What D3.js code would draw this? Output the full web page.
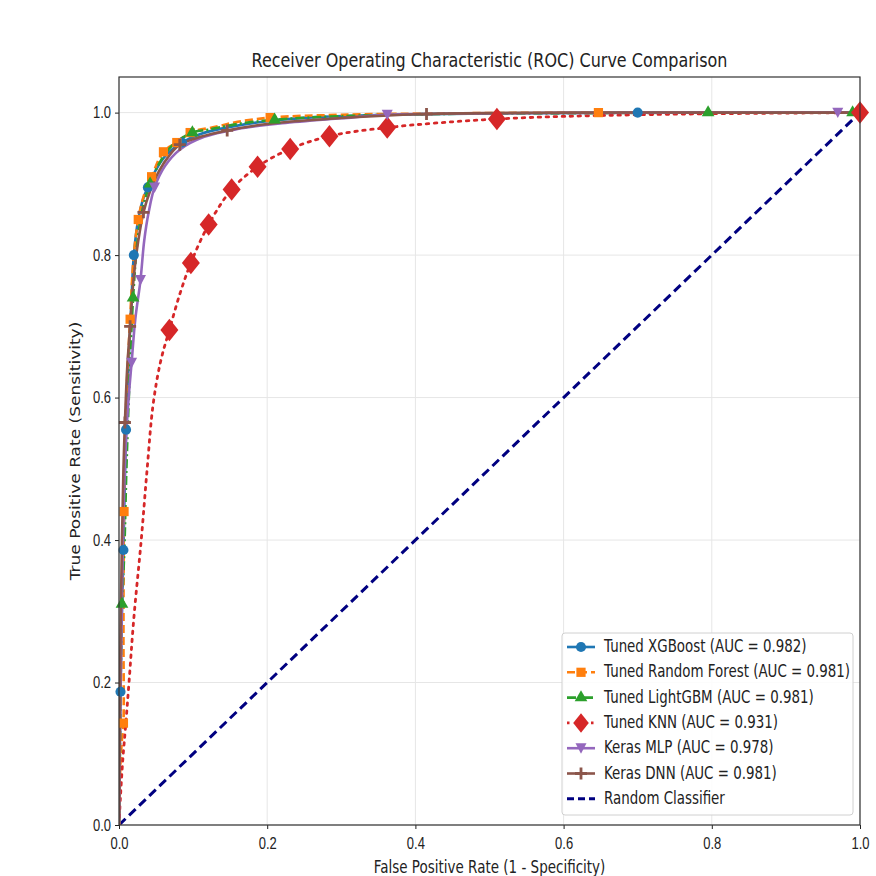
<!DOCTYPE html>
<html>
<head>
<meta charset="utf-8" />
<title>ROC Curve Comparison</title>
<script src="https://d3js.org/d3.v7.min.js"></script>
<style>
  body { margin: 0; background: #fff; font-family: "DejaVu Sans", sans-serif; }
  svg { display: block; }
  .tick text { font-size: 13px; fill: #222; }
  .tick line { stroke: #222; }
  .grid line { stroke: #e6e6e6; stroke-width: 1; }
</style>
</head>
<body>
<svg width="876" height="876"></svg>
<script>
// ---- data ----
const modelNames = ["Tuned XGBoost", "Tuned Random Forest", "Tuned LightGBM", "Tuned KNN", "Keras MLP", "Keras DNN"];
const aucValues = [0.982, 0.981, 0.981, 0.931, 0.978, 0.981];

const xgbFpr = [0, 0.001, 0.002, 0.004, 0.006, 0.0095, 0.013, 0.017, 0.02, 0.026, 0.033, 0.039, 0.05, 0.065, 0.085, 0.11, 0.15, 0.2, 0.27, 0.36, 0.5, 0.7, 1.0];
const xgbTpr = [0, 0.1, 0.187, 0.3, 0.386, 0.555, 0.65, 0.74, 0.8, 0.85, 0.88, 0.895, 0.92, 0.942, 0.958, 0.97, 0.98, 0.988, 0.994, 0.997, 0.999, 1.0, 1.0];
const xgbMarks = [2, 4, 5, 8, 11, 14, 21];

const rfFpr = [0, 0.002, 0.004, 0.006, 0.006, 0.0062, 0.0068, 0.01, 0.015, 0.02, 0.026, 0.034, 0.044, 0.06, 0.078, 0.096, 0.13, 0.16, 0.204, 0.3, 0.45, 0.647, 0.85, 1.0];
const rfTpr = [0, 0.087, 0.12, 0.143, 0.26, 0.35, 0.44, 0.6, 0.71, 0.8, 0.85, 0.885, 0.91, 0.945, 0.958, 0.972, 0.98, 0.987, 0.993, 0.997, 0.999, 1.0, 1.0, 1.0];
const rfMarks = [3, 6, 8, 10, 12, 13, 14, 15, 18, 21, 23];

const lgbFpr = [0, 0.001, 0.002, 0.003, 0.004, 0.007, 0.01, 0.014, 0.019, 0.025, 0.032, 0.042, 0.055, 0.07, 0.099, 0.12, 0.16, 0.21, 0.3, 0.42, 0.6, 0.795, 0.99, 1.0];
const lgbTpr = [0, 0.08, 0.18, 0.26, 0.31, 0.38, 0.5, 0.62, 0.74, 0.82, 0.865, 0.9, 0.93, 0.952, 0.972, 0.976, 0.984, 0.99, 0.995, 0.998, 0.999, 1.0, 1.0, 1.0];
const lgbMarks = [4, 8, 11, 14, 17, 21, 22];

const knnFpr = [0, 0.002, 0.005, 0.009, 0.0135, 0.02, 0.03, 0.038, 0.046, 0.056, 0.068, 0.082, 0.097, 0.121, 0.152, 0.187, 0.231, 0.284, 0.362, 0.51, 0.7, 1.0];
const knnTpr = [0, 0.04, 0.09, 0.14, 0.2, 0.29, 0.4, 0.5, 0.59, 0.65, 0.695, 0.745, 0.789, 0.843, 0.892, 0.924, 0.949, 0.967, 0.979, 0.991, 0.997, 1.0];
const knnMarks = [10, 12, 13, 14, 15, 16, 17, 18, 19, 21];

const mlpFpr = [0, 0.001, 0.003, 0.005, 0.007, 0.01, 0.013, 0.017, 0.022, 0.029, 0.034, 0.04, 0.048, 0.062, 0.082, 0.115, 0.16, 0.22, 0.3, 0.362, 0.5, 0.7, 0.97, 1.0];
const mlpTpr = [0, 0.1, 0.25, 0.38, 0.47, 0.55, 0.6, 0.649, 0.71, 0.765, 0.82, 0.86, 0.895, 0.925, 0.948, 0.966, 0.977, 0.985, 0.992, 0.997, 0.999, 1.0, 1.0, 1.0];
const mlpMarks = [7, 9, 12, 19, 22];

const dnnFpr = [0, 0.001, 0.002, 0.004, 0.006, 0.008, 0.011, 0.015, 0.02, 0.026, 0.033, 0.042, 0.054, 0.068, 0.082, 0.11, 0.146, 0.2, 0.28, 0.415, 0.6, 0.8, 1.0];
const dnnTpr = [0, 0.12, 0.26, 0.4, 0.5, 0.565, 0.64, 0.7, 0.77, 0.82, 0.86, 0.89, 0.918, 0.94, 0.955, 0.966, 0.975, 0.984, 0.991, 0.998, 1.0, 1.0, 1.0];
const dnnMarks = [5, 7, 10, 14, 16, 19];

const xTicks = [0, 0.2, 0.4, 0.6, 0.8, 1.0];
const yTicks = [0, 0.2, 0.4, 0.6, 0.8, 1.0];

const series = [
  { fpr: xgbFpr, tpr: xgbTpr, marks: xgbMarks, color: "#1f77b4", dash: null, marker: "circle" },
  { fpr: rfFpr, tpr: rfTpr, marks: rfMarks, color: "#ff7f0e", dash: "8,4", marker: "square" },
  { fpr: lgbFpr, tpr: lgbTpr, marks: lgbMarks, color: "#2ca02c", dash: "9,3,2,3", marker: "triangle" },
  { fpr: knnFpr, tpr: knnTpr, marks: knnMarks, color: "#d62728", dash: "2.5,5.5", marker: "diamond" },
  { fpr: mlpFpr, tpr: mlpTpr, marks: mlpMarks, color: "#9467bd", dash: null, marker: "tridown" },
  { fpr: dnnFpr, tpr: dnnTpr, marks: dnnMarks, color: "#8c564b", dash: null, marker: "plus" }
];

// text in the picture is stretched vertically
const stretch = 1.26;

// ---- layout ----
const svg = d3.select("svg");
const margin = { top: 77, right: 16, bottom: 51, left: 119 };
const width = 876 - margin.left - margin.right;
const height = 876 - margin.top - margin.bottom;

const x = d3.scaleLinear().domain([0, 1]).range([0, width]);
const y = d3.scaleLinear().domain([0, 1.05]).range([height, 0]);

const g = svg.append("g").attr("transform", `translate(${margin.left},${margin.top})`);

// grid
g.append("g").attr("class", "grid")
  .selectAll("line").data(xTicks).join("line")
  .attr("x1", d => x(d)).attr("x2", d => x(d)).attr("y1", 0).attr("y2", height);
g.append("g").attr("class", "grid")
  .selectAll("line").data(yTicks).join("line")
  .attr("x1", 0).attr("x2", width).attr("y1", d => y(d)).attr("y2", d => y(d));

svg.append("defs").append("clipPath").attr("id", "clip")
  .append("rect").attr("x", 0).attr("y", 0).attr("width", width).attr("height", height);

const plot = g.append("g").attr("clip-path", "url(#clip)");

// random classifier
plot.append("line")
  .attr("x1", x(0)).attr("y1", y(0)).attr("x2", x(1)).attr("y2", y(1))
  .attr("stroke", "#000080").attr("stroke-width", 3).attr("stroke-dasharray", "9,5");

function markerPath(type, s) {
  switch (type) {
    case "circle": return d3.symbol(d3.symbolCircle, s * s * 0.8)();
    case "square": return d3.symbol(d3.symbolSquare, s * s * 0.85)();
    case "triangle": return d3.symbol(d3.symbolTriangle, s * s * 0.7)();
    case "diamond": { const a = s * 0.6, b = s * 0.75; return `M0,${-b}L${a},0L0,${b}L${-a},0Z`; }
    case "tridown": { const a = s * 0.55; return `M${-a},${-a * 0.9}L${a},${-a * 0.9}L0,${a}Z`; }
    case "plus": { const a = s * 0.6, w = 1.4; return `M${-w},${-a}H${w}V${-w}H${a}V${w}H${w}V${a}H${-w}V${w}H${-a}V${-w}H${-w}Z`; }
  }
}

const line = d3.line().x(d => x(d[0])).y(d => y(d[1])).curve(d3.curveCatmullRom.alpha(0.5));

series.forEach(s => {
  const pts = s.fpr.map((f, i) => [f, s.tpr[i]]);
  plot.append("path")
    .datum(pts)
    .attr("fill", "none")
    .attr("stroke", s.color)
    .attr("stroke-width", s.marker === "diamond" ? 2.8 : 2.6)
    .attr("stroke-linecap", s.marker === "diamond" ? "round" : "butt")
    .attr("stroke-dasharray", s.dash)
    .attr("d", line);
});
series.forEach(s => {
  g.append("g").selectAll("path")
    .data(s.marks.map(i => [s.fpr[i], s.tpr[i]]))
    .join("path")
    .attr("transform", d => `translate(${x(d[0])},${y(d[1])})`)
    .attr("d", markerPath(s.marker, s.marker === "diamond" ? 15 : 10))
    .attr("fill", s.color);
});

// axes
const xAxis = d3.axisBottom(x).tickValues(xTicks).tickFormat(d3.format(".1f")).tickSizeOuter(0).tickSize(4).tickPadding(6);
const yAxis = d3.axisLeft(y).tickValues(yTicks).tickFormat(d3.format(".1f")).tickSizeOuter(0).tickSize(4).tickPadding(4);
g.append("g").attr("transform", `translate(0,${height})`).call(xAxis)
  .call(a => a.select(".domain").remove())
  .call(a => a.selectAll(".tick text").attr("transform", `scale(1,${stretch})`));
g.append("g").call(yAxis)
  .call(a => a.select(".domain").remove())
  .call(a => a.selectAll(".tick text").attr("transform", `scale(1,${stretch})`));

// frame
g.append("rect").attr("width", width).attr("height", height)
  .attr("fill", "none").attr("stroke", "#333").attr("stroke-width", 1.2);

// titles
svg.append("text")
  .attr("transform", `translate(${margin.left + width / 2},67) scale(1,${stretch})`)
  .attr("text-anchor", "middle").attr("font-size", 16).attr("fill", "#222")
  .text("Receiver Operating Characteristic (ROC) Curve Comparison");
svg.append("text")
  .attr("transform", `translate(${margin.left + width / 2},873) scale(1,${stretch})`)
  .attr("text-anchor", "middle").attr("font-size", 13.5).attr("fill", "#222")
  .text("False Positive Rate (1 - Specificity)");
svg.append("text")
  .attr("transform", `translate(80,${margin.top + height / 2}) rotate(-90) scale(${stretch},1)`)
  .attr("text-anchor", "middle").attr("font-size", 13.5).attr("fill", "#222")
  .text("True Positive Rate (Sensitivity)");

// legend
const legendItems = series.map((s, i) => ({ ...s, label: `${modelNames[i]} (AUC = ${aucValues[i].toFixed(3)})` }));
legendItems.push({ color: "#000080", dash: "7,4", marker: null, label: "Random Classifier" });

const lg = svg.append("g").attr("transform", "translate(562,633)");
lg.append("rect").attr("width", 291).attr("height", 182).attr("rx", 3)
  .attr("fill", "rgba(255,255,255,0.85)").attr("stroke", "#d0d0d0");
const rows = lg.selectAll("g.row").data(legendItems).join("g")
  .attr("transform", (d, i) => `translate(0,${14 + i * 25.3})`);
rows.append("line").attr("x1", 5).attr("x2", 33).attr("y1", 0).attr("y2", 0)
  .attr("stroke", d => d.color).attr("stroke-width", d => d.marker ? 2.6 : 3)
  .attr("stroke-dasharray", d => d.dash);
rows.filter(d => d.marker).append("path")
  .attr("transform", "translate(19,0)")
  .attr("d", d => markerPath(d.marker, d.marker === "diamond" ? 13 : 10))
  .attr("fill", d => d.color);
rows.append("text")
  .attr("transform", `translate(42,0) scale(1,${stretch})`)
  .attr("y", 4).attr("font-size", 13.4).attr("fill", "#222")
  .text(d => d.label);
</script>
</body>
</html>
